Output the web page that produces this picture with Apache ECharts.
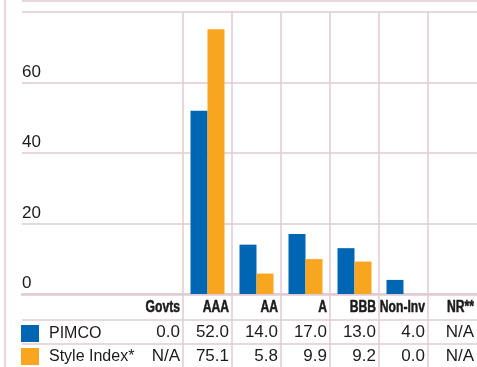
<!DOCTYPE html>
<html>
<head>
<meta charset="utf-8">
<script src="https://cdn.jsdelivr.net/npm/echarts@6/dist/echarts.min.js"></script>
<style>
  html, body { margin: 0; padding: 0; background: #fff; }
  #chart { width: 477px; height: 367px; }
</style>
</head>
<body>
<div id="chart"></div>
<script>
// Credit-quality breakdown (% of portfolio)
const categories = ['Govts', 'AAA', 'AA', 'A', 'BBB', 'Non-Inv', 'NR**'];
const seriesNames = ['PIMCO', 'Style Index*'];
const pimco = [0.0, 52.0, 14.0, 17.0, 13.0, 4.0, null];
const styleIndex = [null, 75.1, 5.8, 9.9, 9.2, 0.0, null];
const tableRows = ['', 'PIMCO', 'Style Index*'];
const yMin = 0, yMax = 80, yStep = 20;

const LINE = '#e0cbd2';
const TEXT = '#1b1b1b';
const BODY_FONT = "'Liberation Sans', Arial, sans-serif";
const BLUE = '#0066b3';
const ORANGE = '#f8a51f';

function cell(v) { return v == null ? 'N/A' : v.toFixed(1); }

const chart = echarts.init(document.getElementById('chart'), null, { renderer: 'canvas' });

const frameLines = [
  { id: 'frameLeft', type: 'line', silent: true, shape: { x1: 5, y1: 0, x2: 5, y2: 367 },
    style: { stroke: LINE, lineWidth: 1.5 } },
  { id: 'frameTop', type: 'line', silent: true, shape: { x1: 22, y1: 1, x2: 477, y2: 1 },
    style: { stroke: LINE, lineWidth: 1.5 } }
];

chart.setOption({
  animation: false,
  color: [BLUE, ORANGE],
  grid: [
    // 0: value scale with horizontal rules, full width
    { left: 22, right: 0, top: 12, bottom: 73 },
    // 1: bars and the data table values under them
    { left: 134, right: 0, top: 12, bottom: 73 },
    // 2: column dividers running through plot and table
    { left: 134, right: 0, top: 12, bottom: 0 },
    // 3: table row dividers
    { left: 22, right: 0, top: 296, bottom: 0 }
  ],
  xAxis: [
    { gridIndex: 0, type: 'value', min: 0, max: 1, show: true,
      axisLine: { show: true, onZero: false, lineStyle: { color: LINE, width: 2.5 } },
      axisTick: { show: false }, axisLabel: { show: false }, splitLine: { show: false } },
    { gridIndex: 1, type: 'category', data: categories, boundaryGap: true,
      axisLine: { show: false }, axisTick: { show: false }, splitLine: { show: false },
      axisLabel: {
        interval: 0, margin: 26, align: 'center',
        formatter: (value, idx) => `{v|${cell(pimco[idx])}}\n{v|${cell(styleIndex[idx])}}`,
        rich: {
          v: { fontFamily: BODY_FONT, fontSize: 17, color: TEXT,
               width: 43, align: 'right', lineHeight: 24 }
        }
      } },
    { gridIndex: 2, type: 'category', data: categories, boundaryGap: true,
      axisLine: { show: false }, axisTick: { show: false }, axisLabel: { show: false },
      splitLine: { show: true, interval: 0, showMinLine: false, showMaxLine: false,
                   lineStyle: { color: LINE, width: 1.5 } } },
    { gridIndex: 3, type: 'value', show: false, min: 0, max: 1 }
  ],
  yAxis: [
    { gridIndex: 0, type: 'value', min: yMin, max: yMax, interval: yStep,
      axisLine: { show: false }, axisTick: { show: false },
      axisLabel: { inside: true, margin: 0, verticalAlign: 'bottom', padding: [0, 0, 2, 0],
                   showMaxLabel: false, fontFamily: BODY_FONT, fontSize: 17, color: TEXT },
      splitLine: { show: true, lineStyle: { color: LINE, width: 1.5 } } },
    { gridIndex: 1, type: 'value', min: yMin, max: yMax, interval: yStep, show: false,
      splitLine: { show: false } },
    { gridIndex: 2, type: 'value', show: false, splitLine: { show: false } },
    { gridIndex: 3, type: 'category', data: tableRows, inverse: true, boundaryGap: true,
      axisLine: { show: false }, axisTick: { show: false }, axisLabel: { show: false },
      splitLine: { show: true, interval: 0, showMinLine: false, showMaxLine: false,
                   lineStyle: { color: LINE, width: 1.5 } } }
  ],
  legend: {
    orient: 'vertical', left: 21, top: 325, padding: 0,
    itemWidth: 18, itemHeight: 17, itemGap: 6, icon: 'rect', selectedMode: false,
    data: seriesNames,
    textStyle: { fontFamily: BODY_FONT, fontSize: 16, color: TEXT, padding: [0, 0, 0, 5] }
  },
  graphic: frameLines,
  series: [
    { name: seriesNames[0], type: 'bar', xAxisIndex: 1, yAxisIndex: 1,
      data: pimco, barWidth: 17, barGap: '0%', itemStyle: { color: BLUE } },
    { name: seriesNames[1], type: 'bar', xAxisIndex: 1, yAxisIndex: 1,
      data: styleIndex, barWidth: 17, barGap: '0%', itemStyle: { color: ORANGE } }
  ]
});

// Column headings: heavy, horizontally condensed, right-aligned in each column
const centers = categories.map(c => chart.convertToPixel({ xAxisIndex: 1 }, c));
const band = centers[1] - centers[0];
const zeroY = chart.convertToPixel({ yAxisIndex: 1 }, 0);
const headers = categories.map((c, i) => ({
  id: 'head' + i, type: 'text', silent: true,
  x: centers[i] + band / 2 - 3, y: zeroY + 14, scaleX: 0.76,
  style: { text: c, font: "bold 16px 'Liberation Sans', Arial, sans-serif",
           fill: TEXT, stroke: TEXT, lineWidth: 0.5,
           textAlign: 'right', textVerticalAlign: 'middle' }
}));
chart.setOption({ graphic: frameLines.concat(headers) });
</script>
</body>
</html>
